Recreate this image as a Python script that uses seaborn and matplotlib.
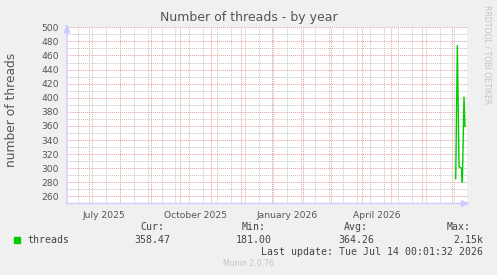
import numpy as np
import pandas as pd
import matplotlib
matplotlib.use("Agg")
import matplotlib.pyplot as plt
import matplotlib.dates as mdates
from matplotlib.patches import Rectangle
import seaborn as sns

# ---- data ----
dates = ["2026-07-04 16:00", "2026-07-06 07:00", "2026-07-08 00:00",
         "2026-07-10 14:00", "2026-07-11 08:00", "2026-07-13 00:00",
         "2026-07-14 00:00"]
threads = [285, 474, 302, 300, 280, 401, 359]

month_labels = ["July 2025", "October 2025", "January 2026", "April 2026"]
month_label_pos = ["2025-07-16", "2025-10-16", "2026-01-16", "2026-04-16"]

legend_name = "threads"
stat_names = ["Cur:", "Min:", "Avg:", "Max:"]
stat_values = ["358.47", "181.00", "364.26", "2.15k"]

title = "Number of threads - by year"
ylabel = "number of threads"
last_update = "Last update: Tue Jul 14 00:01:32 2026"
x_start, x_end = "2025-06-09", "2026-07-16"

df = pd.DataFrame({"date": pd.to_datetime(dates), "threads": threads})

# ---- style ----
sns.set_style("white")
plt.rcParams["font.family"] = ["DejaVu Sans"]
BG = "#f0f0f0"
TXT = "#555555"
LEG = "#444444"
GREEN = "#00cc00"
RED_GRID = "#eb9c9c"
GREY_GRID = "#c4c4c4"
AXIS = "#ccccff"

W, H = 497, 275
fig = plt.figure(figsize=(W / 100, H / 100), dpi=100, facecolor=BG)
L, R, T, B = 67, 467, 27.3, 203.5
ax = fig.add_axes([L / W, 1 - B / H, (R - L) / W, (B - T) / H])
ax.set_facecolor("white")

sns.lineplot(data=df, x="date", y="threads", ax=ax, color=GREEN,
             linewidth=1.0, zorder=5, legend=False)

ax.set_xlim(pd.Timestamp(x_start), pd.Timestamp(x_end))
ax.set_ylim(250, 500)

# y ticks / grid
ax.yaxis.set_minor_locator(matplotlib.ticker.MultipleLocator(10))
ax.set_yticks(np.arange(260, 501, 20))
# x ticks / grid
ax.xaxis.set_major_locator(mdates.MonthLocator())
ax.set_xticks(pd.date_range("2025-06-20", x_end, freq="14D"), minor=True)
ax.set_xticklabels([])

dot = (0, (1, 1))
ax.grid(True, which="major", color=RED_GRID, linestyle=dot, linewidth=0.7)
ax.grid(True, which="minor", color=GREY_GRID, linestyle=dot, linewidth=0.7)
ax.set_axisbelow(True)

ax.tick_params(axis="y", which="major", length=2, color=RED_GRID,
               labelsize=6.6, labelcolor=TXT, pad=4)
ax.tick_params(axis="x", which="major", length=2, color=RED_GRID, pad=2)
ax.tick_params(which="minor", length=0)
for s in ax.spines.values():
    s.set_visible(False)
ax.set_xlabel("")
ax.set_ylabel("")

# month labels centred mid-month
for lab, pos in zip(month_labels, month_label_pos):
    ax.text(pd.Timestamp(pos), -0.045, lab, transform=ax.get_xaxis_transform(),
            ha="center", va="top", fontsize=6.6, color=TXT)

# axes with arrows
ax.annotate("", xy=(1.015, 0), xytext=(-0.008, 0), xycoords="axes fraction",
            arrowprops=dict(arrowstyle="-|>,head_length=0.5,head_width=0.2",
                            color=AXIS, lw=1), annotation_clip=False)
ax.annotate("", xy=(0, 1.035), xytext=(0, -0.015), xycoords="axes fraction",
            arrowprops=dict(arrowstyle="-|>,head_length=0.5,head_width=0.2",
                            color=AXIS, lw=1), annotation_clip=False)

# texts
fig.text(248.5 / W, 1 - 18 / H, title, ha="center", va="center",
         fontsize=9, color=TXT)
fig.text(12 / W, 1 - 110 / H, ylabel, rotation=90, ha="center", va="center",
         fontsize=8.8, color=TXT)
fig.text(487 / W, 1 - 5 / H, "RRDTOOL / TOBI OETIKER", rotation=270,
         ha="center", va="top", fontsize=5.6, color="#c4c4c4")

mono = "DejaVu Sans Mono"
fs = 7.1
fig.patches.append(Rectangle((14 / W, 1 - 243 / H), 6 / W, 6 / H,
                             transform=fig.transFigure, color=GREEN))
fig.text(27 / W, 1 - 240 / H, legend_name, family=mono, fontsize=fs,
         color=LEG, ha="left", va="center")
name_x = [140, 242, 344, 447]
val_right = [170, 272, 374, 483]
for n, v, nx, vr in zip(stat_names, stat_values, name_x, val_right):
    fig.text(nx / W, 1 - 227 / H, n, family=mono, fontsize=fs, color=LEG,
             ha="left", va="center")
    fig.text(vr / W, 1 - 240 / H, v, family=mono, fontsize=fs, color=LEG,
             ha="right", va="center")
fig.text(483 / W, 1 - 252 / H, last_update, family=mono, fontsize=fs,
         color=LEG, ha="right", va="center")
fig.text(248 / W, 1 - 263 / H, "Munin 2.0.76", fontsize=5.6, color="#c4c4c4",
         ha="center", va="center")

fig.savefig("out.png", dpi=100, facecolor=BG)
